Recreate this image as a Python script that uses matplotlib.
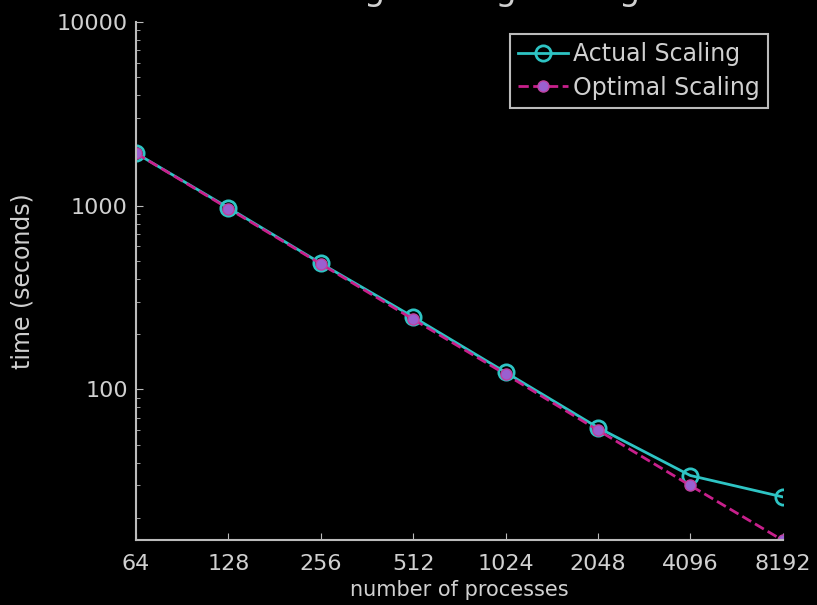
import matplotlib.pyplot as plt
import numpy as np
from matplotlib.ticker import FixedLocator

# processes vs wall time
procs = [64, 128, 256, 512, 1024, 2048, 4096, 8192]
actual = [1930, 975, 486, 248, 124, 62, 34, 26]
optimal = [1930, 965, 482, 241, 121, 60, 30, 15.1]

plt.rcParams['font.family'] = ['DejaVu Sans']

fig = plt.figure(figsize=(8.17, 6.05), dpi=100, facecolor="black")
ax = fig.add_axes([0.1665, 0.107, 0.7915, 0.8566])
ax.set_facecolor("black")

ax.plot(procs, actual, "-o", color="#2ec4c4", lw=2, ms=11, mfc="none", mew=2,
        label="Actual Scaling")
ax.plot(procs, optimal, "--", color="#c8208c", lw=2, marker="o", ms=8,
        mfc="#9a60d0", mec="#c040a0", label="Optimal Scaling")

ax.set_xscale("log", base=2)
ax.set_yscale("log")
ax.set_xlim(64, 8192)
ax.set_ylim(optimal[-1], 10000)
ax.set_xticks(procs)
ax.set_xticklabels([str(p) for p in procs])
ax.set_yticks([100, 1000, 10000])
ax.set_yticklabels(["100", "1000", "10000"])
ax.xaxis.set_minor_locator(FixedLocator([]))

for s in ["top", "right"]:
    ax.spines[s].set_visible(False)
for s in ["left", "bottom"]:
    ax.spines[s].set_color("#bbbbbb")
    ax.spines[s].set_linewidth(1.5)
ax.tick_params(which="both", colors="#bbbbbb", labelcolor="#d0d0d0", labelsize=16)
ax.tick_params(which="major", length=5, direction="in")
ax.tick_params(which="minor", length=3, direction="in")
ax.tick_params(axis="x", pad=10)
ax.tick_params(axis="y", pad=6)

ax.set_xlabel("number of processes", color="#d0d0d0", fontsize=15, labelpad=4)
ax.set_ylabel("time (seconds)", color="#d0d0d0", fontsize=17, labelpad=16)

fig.text(0.56, 1.015, "Strong Scaling Timing", color="#d0d0d0", fontsize=24,
         ha="center", va="center")

leg = ax.legend(loc="upper right", bbox_to_anchor=(0.995, 1.0), fontsize=17,
                facecolor="black", edgecolor="#bbbbbb", framealpha=1,
                handlelength=2.1, handletextpad=0.2, borderpad=0.35,
                labelspacing=0.4, fancybox=False)
leg.get_frame().set_linewidth(1.5)
for t in leg.get_texts():
    t.set_color("#d0d0d0")

fig.savefig("out.png", dpi=100, facecolor="black")
